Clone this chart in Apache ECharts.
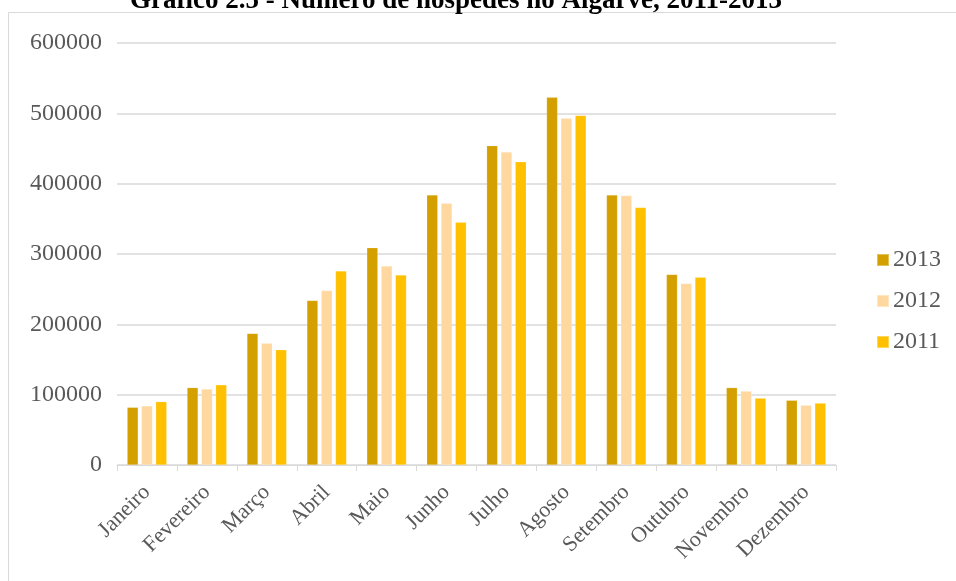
<!DOCTYPE html>
<html>
<head>
<meta charset="utf-8">
<script src="https://cdn.jsdelivr.net/npm/echarts@6/dist/echarts.min.js"></script>
<style>
  html, body { margin: 0; padding: 0; background: #fff; }
  #chart { width: 956px; height: 581px; }
</style>
</head>
<body>
<div id="chart"></div>
<script>
// Monthly guests in the Algarve, by year
const months = ['Janeiro', 'Fevereiro', 'Março', 'Abril', 'Maio', 'Junho',
  'Julho', 'Agosto', 'Setembro', 'Outubro', 'Novembro', 'Dezembro'];
const guests2013 = [82000, 110000, 187000, 234000, 309000, 384000, 454000, 523000, 384000, 271000, 110000, 92000];
const guests2012 = [84000, 108000, 173000, 248000, 283000, 372000, 445000, 493000, 383000, 258000, 105000, 85000];
const guests2011 = [90000, 114000, 164000, 276000, 270000, 345000, 431000, 497000, 366000, 267000, 95000, 88000];
const yTicks = [0, 100000, 200000, 300000, 400000, 500000, 600000];

const titleText = 'Gráfico 2.5 - Número de hóspedes no Algarve, 2011-2013';
const serif = '"Liberation Serif", "Times New Roman", serif';
const textGrey = '#595959';
const lineGrey = '#d9d9d9';

const chart = echarts.init(document.getElementById('chart'), null, { renderer: 'canvas' });

const makeSeries = (name, data, color) => ({
  name: name,
  type: 'bar',
  data: data,
  barWidth: 11,
  barGap: '30%',
  itemStyle: { color: color, borderColor: 'rgba(255,255,255,0.35)', borderWidth: 0.5 },
  emphasis: { disabled: true }
});

chart.setOption({
  animation: false,
  backgroundColor: '#ffffff',
  title: {
    text: titleText,
    left: 451,
    textAlign: 'center',
    top: -17,
    padding: 5,
    textStyle: { fontFamily: serif, fontWeight: 'bold', fontSize: 27, color: '#000' }
  },
  graphic: [{
    type: 'rect',
    shape: { x: 8.5, y: 12.5, width: 1000, height: 700 },
    style: { fill: 'none', stroke: '#d9d9d9', lineWidth: 1 },
    z: -1
  }],
  legend: {
    orient: 'vertical',
    left: 876,
    top: 248,
    padding: 0,
    itemWidth: 12,
    itemHeight: 12,
    itemGap: 17,
    icon: 'rect',
    textStyle: { fontFamily: serif, fontSize: 24, color: textGrey, padding: [0, 0, 0, -1] },
    data: ['2013', '2012', '2011']
  },
  grid: { left: 117, right: 120, top: 43, bottom: 116, containLabel: false },
  xAxis: {
    type: 'category',
    data: months,
    axisLine: { lineStyle: { color: lineGrey, width: 1 } },
    axisTick: { show: true, length: 6, lineStyle: { color: lineGrey } },
    axisLabel: {
      rotate: 45,
      interval: 0,
      margin: 24,
      fontFamily: serif,
      fontSize: 22,
      color: textGrey
    }
  },
  yAxis: {
    type: 'value',
    min: yTicks[0],
    max: yTicks[yTicks.length - 1],
    interval: yTicks[1] - yTicks[0],
    axisLine: { show: false },
    axisTick: { show: false },
    splitLine: { lineStyle: { color: lineGrey, width: 1.5 } },
    axisLabel: {
      fontFamily: serif, fontSize: 24, color: textGrey, margin: 15,
      formatter: (v) => String(v)
    }
  },
  series: [
    makeSeries('2013', guests2013, '#d4a000'),
    makeSeries('2012', guests2012, '#ffd8a0'),
    makeSeries('2011', guests2011, '#ffc000')
  ]
});
</script>
</body>
</html>
